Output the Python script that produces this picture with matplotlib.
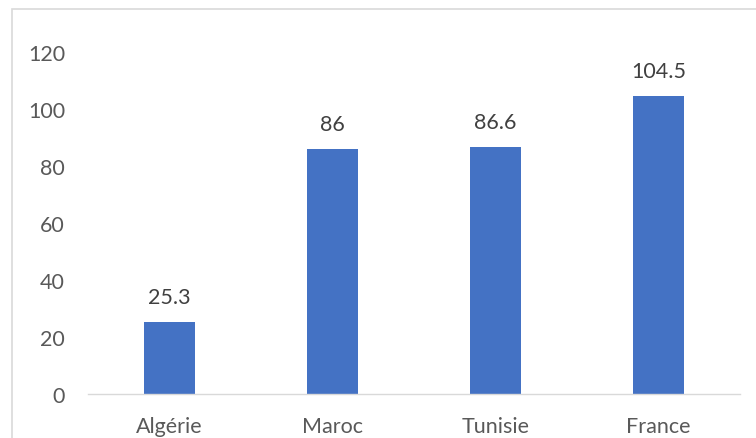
import matplotlib
matplotlib.use("Agg")
import matplotlib.pyplot as plt
from matplotlib.patches import Rectangle

categories = ["Algérie", "Maroc", "Tunisie", "France"]
values = [25.3, 86, 86.6, 104.5]
y_ticks = [0, 20, 40, 60, 80, 100, 120]

plt.rcParams["font.family"] = ["Lato", "DejaVu Sans"]

W, H = 756, 439
fig = plt.figure(figsize=(W / 100, H / 100), dpi=100)
fig.patch.set_facecolor("white")

# light outer frame of the chart area
fig.patches.append(Rectangle((12 / W, -0.05), 1.0, (H - 10) / H + 0.05,
                             transform=fig.transFigure, fill=False,
                             edgecolor="#D9D9D9", linewidth=1.2))

ax = fig.add_axes([88 / W, (H - 395) / H, (740 - 88) / W, (395 - 53) / H])
x = list(range(len(categories)))
bars = ax.bar(x, values, width=0.313, color="#4472C4", zorder=2)

ax.set_xlim(-0.5, len(categories) - 0.5)
ax.set_ylim(0, 120)
ax.set_yticks(y_ticks)
ax.set_yticklabels([str(t) for t in y_ticks])
ax.set_xticks(x)
ax.set_xticklabels(categories)

for s in ["top", "right", "left"]:
    ax.spines[s].set_visible(False)
ax.spines["bottom"].set_color("#D9D9D9")
ax.spines["bottom"].set_linewidth(1.0)

ax.tick_params(axis="y", length=0, pad=16.5, labelsize=15.5, labelcolor="#595959")
ax.tick_params(axis="x", length=0, pad=16, labelsize=15.5, labelcolor="#595959")

for xi, v in zip(x, values):
    label = f"{v:g}"
    ax.annotate(label, (xi, v), xytext=(0, 11), textcoords="offset points",
                ha="center", va="bottom", fontsize=15.5, color="#404040")

fig.savefig("out.png", dpi=100, facecolor="white")
